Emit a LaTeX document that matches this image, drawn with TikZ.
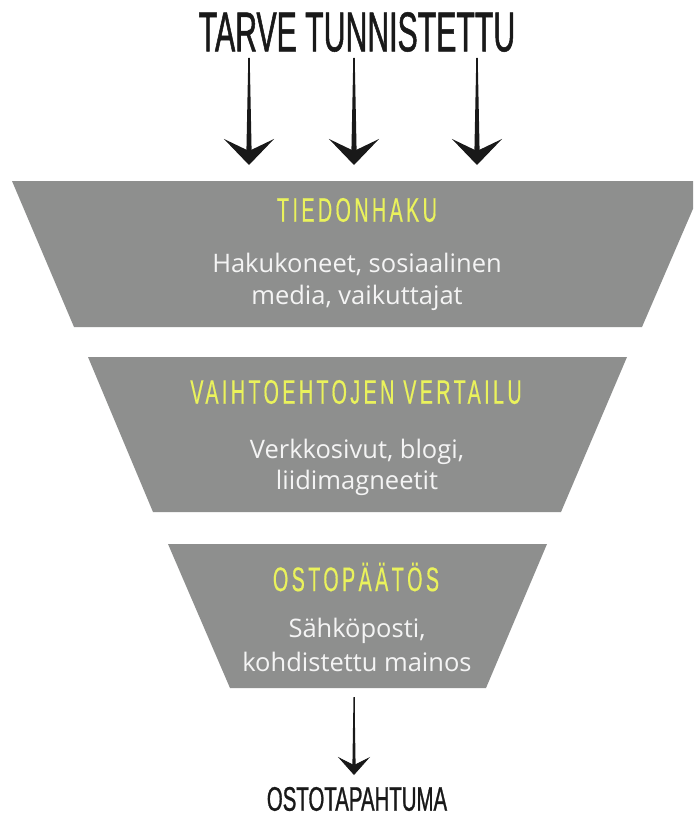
\documentclass[tikz,border=0pt]{standalone}
\usepackage{fontspec}
\setmainfont{Open Sans}
\newfontfamily\titlefont[FakeStretch=0.54,FakeBold=0.9]{Liberation Sans}
\newfontfamily\resultfont[FakeStretch=0.6,FakeBold=0.8]{Liberation Sans}
\newfontfamily\headfont[FakeStretch=0.58,LetterSpace=10,FakeBold=0.4]{Liberation Sans}
\usetikzlibrary{arrows.meta,calc}
\definecolor{funnelgray}{RGB}{142,143,142}
\definecolor{headyellow}{RGB}{234,242,92}
\definecolor{bodywhite}{RGB}{244,244,244}
\definecolor{inkblack}{RGB}{25,25,25}
\tikzset{
  stage/.style={fill=funnelgray},
  headtext/.style={inner sep=0pt,text=headyellow,font=\headfont\fontsize{34}{34}\selectfont},
  bodytext/.style={inner sep=0pt,anchor=base,text=bodywhite,font=\fontsize{25.5}{30}\selectfont},
  bigtip/.style={-{Stealth[length=26pt,width=50pt,inset=12pt]},line width=1.2pt,draw=inkblack},
  smalltip/.style={-{Stealth[length=18pt,width=32pt,inset=8pt]},line width=0.8pt,draw=inkblack},
}
\begin{document}
\begin{tikzpicture}[x=1pt,y=-1pt]
\useasboundingbox (0,0) rectangle (693,816);
\clip (0,0) rectangle (693,816);
\fill[white] (0,0) rectangle (693,816);

% funnel stages
\fill[stage] (12,181) -- (705,181) -- (642,327) -- (74,327) -- cycle;
\fill[stage] (88,357) -- (627,357) -- (561,512) -- (153,512) -- cycle;
\fill[stage] (168,544) -- (547,544) -- (486,688) -- (230,688) -- cycle;

% title
\node[inner sep=0pt,text=inkblack,font=\titlefont\fontsize{56}{56}\selectfont] (title) at (357,32) {TARVE TUNNISTETTU};

% top arrows
\foreach \i/\x in {1/249,2/354,3/477}{
  \coordinate (s\i) at (\x,58);
  \coordinate (e\i) at (\x,165);
  \fill[inkblack] ($(s\i)+(-0.7,0)$) -- ($(s\i)+(0.7,0)$) -- ($(e\i)+(2.6,-14)$) -- ($(e\i)+(-2.6,-14)$) -- cycle;
  \draw[bigtip] (s\i) -- (e\i);
}

% stage texts
\node[headtext] (h1) at (357,210) {TIEDONHAKU};
\node[bodytext] (b1a) at (357,272) {Hakukoneet, sosiaalinen};
\node[bodytext] (b1b) at (357,304) {media, vaikuttajat};

\node[headtext] (h2) at (356,392) {VAIHTOEHTOJEN VERTAILU};
\node[bodytext] (b2a) at (357,458) {Verkkosivut, blogi,};
\node[bodytext] (b2b) at (357,489) {liidimagneetit};

\node[headtext] (h3) at (356,577) {OSTOPÄÄTÖS};
\node[bodytext] (b3a) at (357,637) {Sähköposti,};
\node[bodytext] (b3b) at (357,671) {kohdistettu mainos};

% bottom arrow and result
\coordinate (s4) at (354,697);
\node[inner sep=0pt,text=inkblack,font=\resultfont\fontsize{34}{34}\selectfont] (result) at (357,799) {OSTOTAPAHTUMA};
\coordinate (e4) at (354,775);
\fill[inkblack] ($(s4)+(-0.5,0)$) -- ($(s4)+(0.5,0)$) -- ($(e4)+(1.6,-10)$) -- ($(e4)+(-1.6,-10)$) -- cycle;
\draw[smalltip] (s4) -- (e4);
\end{tikzpicture}
\end{document}
